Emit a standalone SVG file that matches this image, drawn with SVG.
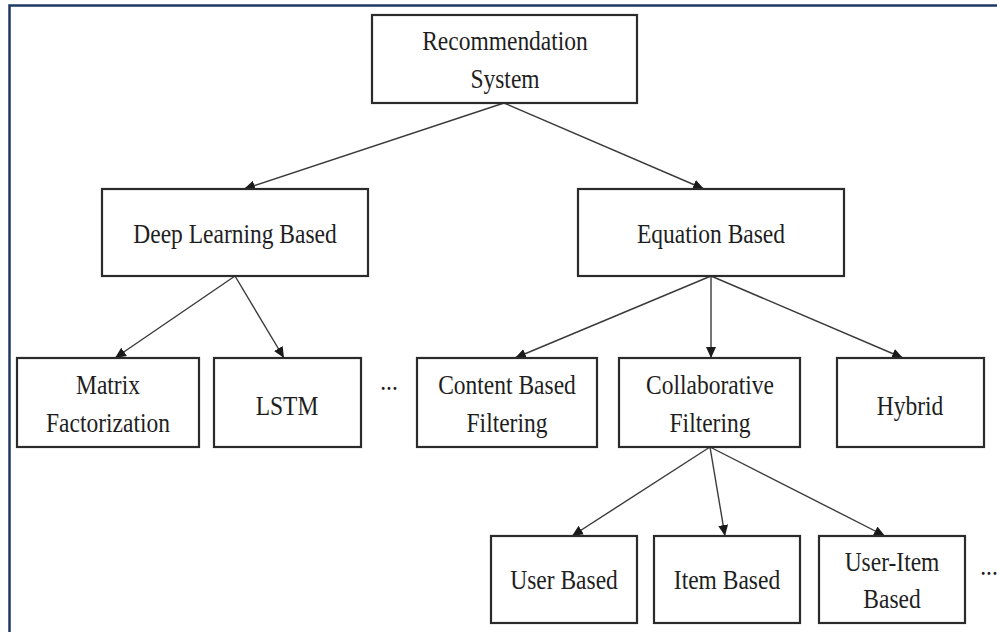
<svg xmlns="http://www.w3.org/2000/svg" width="997" height="632" viewBox="0 0 997 632">
<style>
.box{fill:#fff;stroke:#2b2b2b;stroke-width:2.2}
.t{font-family:"Liberation Serif","Times New Roman",serif;font-size:23.5px;fill:#1e1e1e;text-anchor:middle}
.c{stroke:#3a3a3a;stroke-width:1.4;fill:none;marker-end:url(#ah)}
</style>
<defs>
<marker id="ah" markerUnits="userSpaceOnUse" markerWidth="12" markerHeight="10" refX="11" refY="5" orient="auto">
<path d="M0,0 L11,5 L0,10 z" fill="#1a1a1a"/>
</marker>
</defs>
<rect x="0" y="0" width="997" height="632" fill="#fff"/>
<rect x="9.5" y="5.5" width="1000" height="640" fill="none" stroke="#1f3864" stroke-width="2.5"/>
<g id="connectors">
<line class="c" x1="504" y1="103" x2="244" y2="189"/>
<line class="c" x1="504" y1="103" x2="704" y2="189"/>
<line class="c" x1="235" y1="276" x2="115" y2="358"/>
<line class="c" x1="235" y1="276" x2="284" y2="358"/>
<line class="c" x1="711" y1="276" x2="515" y2="358"/>
<line class="c" x1="711" y1="276" x2="711" y2="358"/>
<line class="c" x1="711" y1="276" x2="903" y2="358"/>
<line class="c" x1="710" y1="447" x2="572" y2="536"/>
<line class="c" x1="710" y1="447" x2="725" y2="536"/>
<line class="c" x1="710" y1="447" x2="885" y2="536"/>
</g>
<g id="n-rec">
<rect class="box" x="372" y="15" width="265" height="88"/>
<text class="t" transform="translate(505,50) scale(1,1.2)">Recommendation</text>
<text class="t" transform="translate(505,88) scale(1,1.2)">System</text>
</g>
<g id="n-deep">
<rect class="box" x="102" y="189" width="266" height="87"/>
<text class="t" transform="translate(235,243) scale(1,1.2)">Deep Learning Based</text>
</g>
<g id="n-eq">
<rect class="box" x="578" y="189" width="266" height="87"/>
<text class="t" transform="translate(711,243) scale(1,1.2)">Equation Based</text>
</g>
<g id="n-mf">
<rect class="box" x="17" y="358" width="182" height="89"/>
<text class="t" transform="translate(108,394) scale(1,1.2)">Matrix</text>
<text class="t" transform="translate(108,432) scale(1,1.2)">Factorization</text>
</g>
<g id="n-lstm">
<rect class="box" x="214" y="358" width="147" height="89"/>
<text class="t" transform="translate(287,415) scale(1,1.2)">LSTM</text>
</g>
<g id="n-dots1">
<text class="t" transform="translate(389,390) scale(1,1.2)">...</text>
</g>
<g id="n-cbf">
<rect class="box" x="417" y="358" width="180" height="89"/>
<text class="t" transform="translate(507,394) scale(1,1.2)">Content Based</text>
<text class="t" transform="translate(507,432) scale(1,1.2)">Filtering</text>
</g>
<g id="n-cf">
<rect class="box" x="619" y="358" width="181" height="89"/>
<text class="t" transform="translate(710,394) scale(1,1.2)">Collaborative</text>
<text class="t" transform="translate(710,432) scale(1,1.2)">Filtering</text>
</g>
<g id="n-hyb">
<rect class="box" x="837" y="358" width="147" height="89"/>
<text class="t" transform="translate(910,415) scale(1,1.2)">Hybrid</text>
</g>
<g id="n-user">
<rect class="box" x="491" y="536" width="146" height="87"/>
<text class="t" transform="translate(564,589) scale(1,1.2)">User Based</text>
</g>
<g id="n-item">
<rect class="box" x="654" y="536" width="146" height="87"/>
<text class="t" transform="translate(727,589) scale(1,1.2)">Item Based</text>
</g>
<g id="n-ui">
<rect class="box" x="819" y="536" width="146" height="87"/>
<text class="t" transform="translate(892,571) scale(1,1.2)">User-Item</text>
<text class="t" transform="translate(892,608) scale(1,1.2)">Based</text>
</g>
<g id="n-dots2">
<text class="t" transform="translate(989,575) scale(1,1.2)">...</text>
</g>
</svg>
